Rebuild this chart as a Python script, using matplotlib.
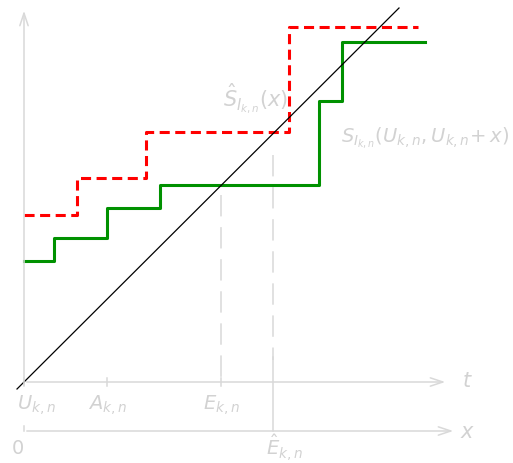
import matplotlib
matplotlib.use("Agg")
import matplotlib.pyplot as plt

# all coordinates (pixel space, y down)
GRAY = "#d9d9d9"
TXT = "#d2d2d2"

# step functions
green_x = [24, 54, 54, 107, 107, 160, 160, 319, 319, 342, 342, 425]
green_y = [261, 261, 238, 238, 208, 208, 185, 185, 101, 101, 42, 42]
red_x = [24, 77, 77, 146, 146, 289, 289, 418]
red_y = [215, 215, 178, 178, 132, 132, 27, 27]

# diagonal reference line
diag_x = [17, 399]
diag_y = [389, 8]

# axes
t_axis_y = 382
x_axis_y = 431
origin_x = 24
t_ticks = [24, 107, 221]
t_labels = [r"$U_{k,n}$", r"$A_{k,n}$", r"$E_{k,n}$"]
ehat_x = 273

fig = plt.figure(figsize=(5.13, 4.63), dpi=100)
ax = fig.add_axes([0, 0, 1, 1])
ax.set_xlim(0, 513)
ax.set_ylim(463, 0)
ax.axis("off")

arrow = dict(arrowstyle="->,head_length=0.9,head_width=0.3", color=GRAY, lw=1.1)
# vertical axis
ax.annotate("", xy=(origin_x, 8), xytext=(origin_x, 388), arrowprops=arrow)
# t axis
ax.annotate("", xy=(448, t_axis_y), xytext=(origin_x, t_axis_y), arrowprops=arrow)
# x axis
ax.annotate("", xy=(456, x_axis_y), xytext=(origin_x, x_axis_y), arrowprops=arrow)
ax.plot([origin_x, origin_x], [426, x_axis_y], color=GRAY, lw=1.1)

for tx, lab in zip(t_ticks, t_labels):
    ax.plot([tx, tx], [378, 386], color=GRAY, lw=1.1)
    ax.text(tx + 12 if tx == origin_x else tx, 405, lab, color=TXT, fontsize=14,
            ha="center", va="center")
ax.text(467, 381, r"$t$", color=TXT, fontsize=15, ha="center", va="center")
ax.text(468, 432, r"$x$", color=TXT, fontsize=15, ha="center", va="center")
ax.text(18, 448, "0", color=TXT, fontsize=14, ha="center", va="center")
ax.text(285, 448, r"$\hat{E}_{k,n}$", color=TXT, fontsize=14, ha="center", va="center")

# guide lines
ax.plot([221, 221], [195, 386], color=GRAY, lw=1.1, ls=(0, (14, 7)))
ax.plot([ehat_x, ehat_x], [155, 360], color=GRAY, lw=1.1, ls=(0, (14, 7)))
ax.plot([ehat_x, ehat_x], [357, x_axis_y], color=GRAY, lw=1.1)

ax.plot(red_x, red_y, color="red", lw=2.2, ls=(0, (3.3, 1.8)))
ax.plot(green_x, green_y, color="#009100", lw=2.2)
ax.plot(diag_x, diag_y, color="black", lw=0.9)

ax.text(256, 99, r"$\hat{S}_{I_{k,n}}(x)$", color=TXT, fontsize=15, ha="center", va="center")
ax.text(425, 138, r"$S_{I_{k,n}}(U_{k,n},U_{k,n}\!+x)$", color=TXT, fontsize=14,
        ha="center", va="center")

fig.savefig("out.png", dpi=100)
